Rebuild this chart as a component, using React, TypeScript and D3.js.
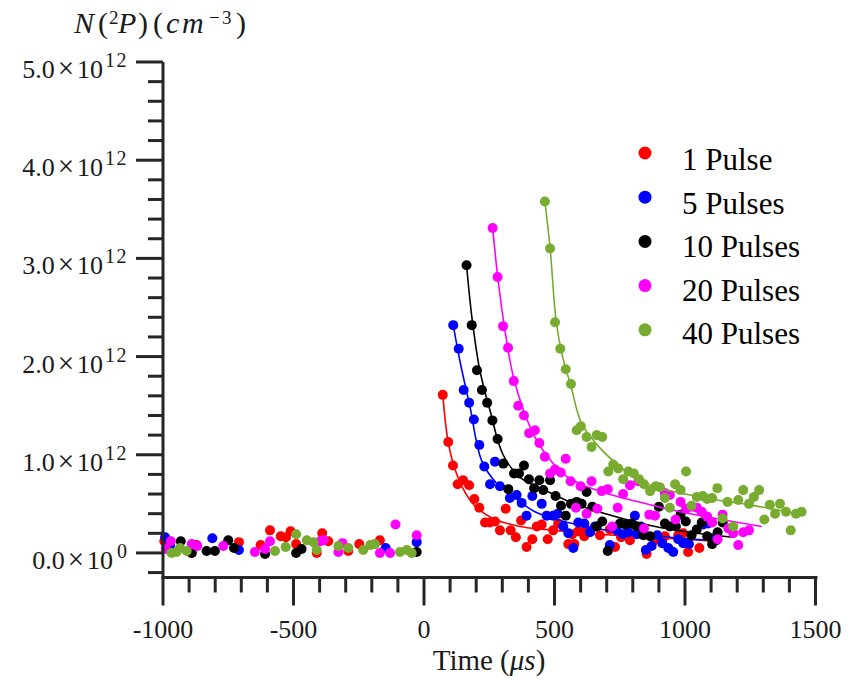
import React from "react";
import * as d3 from "d3";

// ---- data (time in µs, density in 1e12 cm^-3) ----
const seriesNames = ["1 Pulse", "5 Pulses", "10 Pulses", "20 Pulses", "40 Pulses"];
const seriesColors = ["#ff0000", "#0000ff", "#000000", "#ff00ff", "#77ac30"];

const pulse1Points: [number, number][] = [
  [-995, 0.12], [-890, 0.0], [-871, 0.08], [-709, 0.11], [-626, 0.08], [-590, 0.23], [-549, 0.17], [-529, 0.16],
  [-511, 0.22], [-490, 0.09], [-411, 0.0], [-390, 0.2], [-367, 0.12], [-290, 0.02], [-248, 0.09], [-169, 0.13],
  [72, 1.61], [93, 1.13], [111, 0.89], [129, 0.7], [150, 0.74], [173, 0.69], [193, 0.55], [212, 0.46], [234, 0.31],
  [253, 0.31], [272, 0.32], [291, 0.23], [313, 0.45], [332, 0.23], [352, 0.16], [372, 0.33], [393, 0.06], [415, 0.14],
  [432, 0.27], [451, 0.29], [474, 0.14], [495, 0.23], [514, 0.3], [553, 0.09], [568, 0.19], [576, 0.09], [591, 0.22],
  [614, 0.17], [623, 0.23], [674, 0.18], [712, 0.24], [732, 0.06], [755, 0.16], [789, 0.13], [853, -0.01], [885, 0.13],
  [923, 0.17], [974, 0.18], [993, 0.2], [1012, 0.01], [1055, 0.05],
];
const pulse5Points: [number, number][] = [
  [-992, 0.16], [-973, 0.08], [-811, 0.15], [-709, 0.03], [-147, 0.05], [-28, 0.11],
  [112, 2.32], [133, 2.08], [152, 1.66], [173, 1.53], [191, 1.36], [212, 1.1], [231, 0.88], [253, 0.7], [272, 0.93],
  [291, 0.68], [329, 0.56], [355, 0.59], [374, 0.51], [393, 0.38], [415, 0.58], [451, 0.5], [470, 0.38], [495, 0.38],
  [512, 0.4], [534, 0.27], [553, 0.2], [572, 0.05], [591, 0.31], [614, 0.3], [636, 0.21], [655, 0.27], [712, 0.08],
  [738, 0.23], [761, 0.19], [783, 0.21], [808, 0.38], [815, 0.19], [831, 0.27], [850, 0.03], [872, 0.07], [894, 0.18],
  [913, 0.1], [936, 0.05], [955, 0.01], [974, 0.14], [993, 0.1], [1015, 0.09], [1070, 0.29], [1089, 0.3], [1102, 0.15],
  [1121, 0.13],
];
const pulse10Points: [number, number][] = [
  [-932, 0.12], [-890, 0.0], [-833, 0.02], [-801, 0.02], [-750, 0.13], [-728, 0.05], [-609, -0.01], [-490, 0.0],
  [-469, 0.04], [-28, 0.01],
  [163, 2.93], [183, 2.32], [203, 1.86], [222, 1.66], [242, 1.53], [262, 1.35], [282, 1.16], [304, 0.91], [323, 0.65],
  [345, 0.81], [364, 0.81], [383, 0.89], [402, 0.75], [422, 0.66], [442, 0.74], [457, 0.64], [483, 0.74], [504, 0.58],
  [525, 0.48], [543, 0.38], [563, 0.5], [585, 0.52], [604, 0.5], [623, 0.62], [645, 0.47], [662, 0.27], [683, 0.32],
  [704, 0.02], [751, 0.3], [770, 0.29], [796, 0.3], [815, 0.27], [840, 0.18], [866, 0.17], [900, 0.47], [923, 0.3],
  [942, 0.27], [965, 0.27], [983, 0.39], [1003, 0.32], [1025, 0.18], [1045, 0.24], [1064, 0.31], [1085, 0.17],
  [1104, 0.09], [1125, 0.21], [1144, 0.31],
];
const pulse20Points: [number, number][] = [
  [-989, 0.04], [-970, 0.12], [-890, 0.09], [-869, 0.07], [-769, 0.07], [-648, 0.01], [-609, 0.04], [-590, 0.12],
  [-398, 0.12], [-385, 0.13], [-328, 0.01], [-312, 0.1], [-169, 0.0], [-130, 0.0], [-109, 0.29], [-28, 0.18],
  [263, 3.31], [282, 2.81], [303, 2.31], [322, 2.09], [344, 1.75], [361, 1.5], [383, 1.4], [403, 1.22], [425, 1.25],
  [442, 1.12], [463, 0.98], [483, 0.81], [502, 0.85], [524, 0.82], [543, 0.96], [562, 0.73], [582, 0.46], [600, 0.68],
  [623, 0.4], [642, 0.73], [664, 0.45], [681, 0.63], [704, 0.65], [721, 0.27], [742, 0.46], [763, 0.6], [789, 0.69],
  [821, 0.73], [843, 0.25], [863, 0.39], [885, 0.38], [923, 0.61], [942, 0.59], [964, 0.34], [983, 0.52], [1004, 0.45],
  [1025, 0.47], [1045, 0.46], [1064, 0.42], [1085, 0.37], [1104, 0.31], [1125, 0.14], [1144, 0.39], [1166, 0.25],
  [1185, 0.2], [1204, 0.08], [1223, 0.21], [1245, 0.23],
];
const pulse40Points: [number, number][] = [
  [-967, 0.0], [-948, 0.01], [-935, 0.05], [-909, 0.02], [-571, 0.02], [-530, 0.06], [-490, 0.19], [-449, 0.13],
  [-424, 0.11], [-411, 0.03], [-328, 0.07], [-290, 0.05], [-233, 0.03], [-206, 0.08], [-188, 0.09], [-92, 0.01],
  [-66, 0.03], [-47, 0.0],
  [463, 3.58], [483, 3.1], [502, 2.35], [522, 2.08], [543, 1.87], [563, 1.72], [585, 1.25], [601, 1.29], [623, 1.18],
  [642, 1.08], [662, 1.2], [683, 1.18], [706, 0.83], [725, 0.9], [744, 0.86], [763, 0.75], [783, 0.83], [804, 0.81],
  [824, 0.75], [843, 0.7], [866, 0.63], [888, 0.68], [904, 0.67], [923, 0.56], [942, 0.46], [962, 0.7], [983, 0.64],
  [1004, 0.83], [1025, 0.48], [1045, 0.57], [1068, 0.58], [1085, 0.55], [1104, 0.56], [1124, 0.66], [1144, 0.35],
  [1163, 0.52], [1185, 0.27], [1204, 0.54], [1223, 0.64], [1245, 0.5], [1264, 0.57], [1284, 0.64], [1304, 0.34],
  [1325, 0.49], [1345, 0.4], [1364, 0.5], [1387, 0.42], [1405, 0.23], [1425, 0.4], [1447, 0.42],
];

// fitted decay curves
const pulse1Fit: [number, number][] = [
  [72, 1.61], [92, 1.14], [119, 0.85], [157, 0.62], [195, 0.48], [264, 0.35], [368, 0.27], [463, 0.24], [674, 0.19],
  [866, 0.16], [1121, 0.12],
];
const pulse5Fit: [number, number][] = [
  [112, 2.32], [138, 1.95], [176, 1.49], [221, 0.94], [278, 0.71], [341, 0.58], [425, 0.42], [552, 0.31], [751, 0.21],
  [942, 0.16], [1140, 0.12],
];
const pulse10Fit: [number, number][] = [
  [163, 2.93], [184, 2.39], [214, 1.86], [253, 1.45], [303, 1.0], [368, 0.77], [463, 0.64], [559, 0.52], [682, 0.41],
  [904, 0.26], [1184, 0.16],
];
const pulse20Fit: [number, number][] = [
  [263, 3.31], [283, 2.8], [310, 2.27], [341, 1.81], [383, 1.44], [425, 1.18], [483, 0.95], [552, 0.77], [682, 0.62],
  [808, 0.53], [981, 0.42], [1294, 0.27],
];
const pulse40Fit: [number, number][] = [
  [463, 3.58], [483, 3.11], [506, 2.37], [529, 2.02], [563, 1.7], [604, 1.32], [681, 1.05], [757, 0.87], [847, 0.71],
  [1057, 0.57], [1249, 0.49], [1447, 0.39],
];

const allPoints = [pulse1Points, pulse5Points, pulse10Points, pulse20Points, pulse40Points];
const allFits = [pulse1Fit, pulse5Fit, pulse10Fit, pulse20Fit, pulse40Fit];

const xTickLabels = [-1000, -500, 0, 500, 1000, 1500];
const yTickMantissas = ["0.0", "1.0", "2.0", "3.0", "4.0", "5.0"];
const yTickExponents = ["0", "12", "12", "12", "12", "12"];
const yTickValues = [0, 1, 2, 3, 4, 5];

const W = 858;
const H = 681;
const AXIS = "#262626";
const TXT = "#1a1a1a";
const txt: React.CSSProperties = { fontFamily: "Liberation Serif" };

export default function App() {
  const x = d3.scaleLinear().domain([-1000, 1500]).range([163, 815.5]);
  const y = d3.scaleLinear().domain([-0.25, 5]).range([577.5, 62]);
  const line = d3
    .line<[number, number]>()
    .x((d) => x(d[0]))
    .y((d) => y(d[1]))
    .curve(d3.curveCatmullRom.alpha(0.5));

  const xMinor = d3.range(-1000, 1501, 100);
  const yMinor = d3.range(-0.2, 5.001, 0.2);
  const x0 = x(-1000);
  const yBase = y(-0.25);

  return (
    <svg width={W} height={H} style={{ position: "absolute", left: 0, top: 0, background: "#fff" }}>
      <rect width={W} height={H} fill="#fff" />
      {/* series */}
      {allPoints.map((pts, i) => (
        <g key={i}>
          <path d={line(allFits[i]) || ""} fill="none" stroke={seriesColors[i]} strokeWidth={1.6} />
          {pts.map((p, j) => (
            <circle key={j} cx={x(p[0])} cy={y(p[1])} r={5} fill={seriesColors[i]} />
          ))}
        </g>
      ))}

      {/* axes */}
      <line x1={x0} x2={x0} y1={y(5)} y2={yBase + 1.5} stroke={AXIS} strokeWidth={3} />
      <line x1={x0 - 1.5} x2={x(1500) + 2} y1={yBase} y2={yBase} stroke={AXIS} strokeWidth={3} />
      {yMinor.map((v, i) => {
        const major = Math.abs(v - Math.round(v)) < 1e-6;
        return (
          <line
            key={"ym" + i}
            x1={x0 - (major ? 27 : 15)}
            x2={x0}
            y1={y(v)}
            y2={y(v)}
            stroke={AXIS}
            strokeWidth={3}
          />
        );
      })}
      {xMinor.map((v, i) => {
        const major = v % 500 === 0;
        return (
          <line
            key={"xm" + i}
            x1={x(v)}
            x2={x(v)}
            y1={yBase}
            y2={yBase + (major ? 28 : 15)}
            stroke={AXIS}
            strokeWidth={3}
          />
        );
      })}
      {xTickLabels.map((v) => (
        <text key={"xl" + v} x={x(v)} y={638} textAnchor="middle" fontSize={26} fill={TXT} style={txt}>
          {v}
        </text>
      ))}
      {yTickValues.map((v, i) => {
        const base = y(v) + 16;
        const exp = yTickExponents[i];
        const long = exp.length > 1;
        return (
          <g key={"yl" + v} fill={TXT} style={txt}>
            <text x={long ? 103 : 113} y={base} textAnchor="end" fontSize={26}>
              <tspan>{yTickMantissas[i]}</tspan>
              <tspan dx={3} fontSize={29}>×</tspan>
              <tspan dx={3}>10</tspan>
            </text>
            {long ? (
              <text x={105} y={base - 11} fontSize={20} letterSpacing={1.5}>
                {exp}
              </text>
            ) : (
              <text x={127} y={base - 11} textAnchor="end" fontSize={20}>
                {exp}
              </text>
            )}
          </g>
        );
      })}

      {/* axis titles */}
      <g fill={TXT} style={txt} fontSize={30}>
        <text x={74} y={33} fontStyle="italic">N</text>
        <text x={98} y={33}>(</text>
        <text x={109} y={24} fontSize={19}>2</text>
        <text x={118} y={33} fontStyle="italic">P</text>
        <text x={138} y={33}>)</text>
        <text x={153} y={33}>(</text>
        <text x={166} y={33} fontStyle="italic">c</text>
        <text x={182} y={33} fontStyle="italic">m</text>
        <text x={209} y={24} fontSize={19}>−</text>
        <text x={222} y={24} fontSize={19}>3</text>
        <text x={236} y={33}>)</text>
      </g>
      <text x={489} y={670} textAnchor="middle" fontSize={29} fill={TXT} style={txt}>
        <tspan>Time (</tspan>
        <tspan fontStyle="italic">μs</tspan>
        <tspan>)</tspan>
      </text>

      {/* legend */}
      {seriesNames.map((name, i) => (
        <g key={"lg" + i}>
          <circle cx={645} cy={153 + i * 44.2} r={6.5} fill={seriesColors[i]} />
          <text x={682} y={170 + i * 43.5} fontSize={31} fill="#000" style={txt}>
            {name}
          </text>
        </g>
      ))}
    </svg>
  );
}
